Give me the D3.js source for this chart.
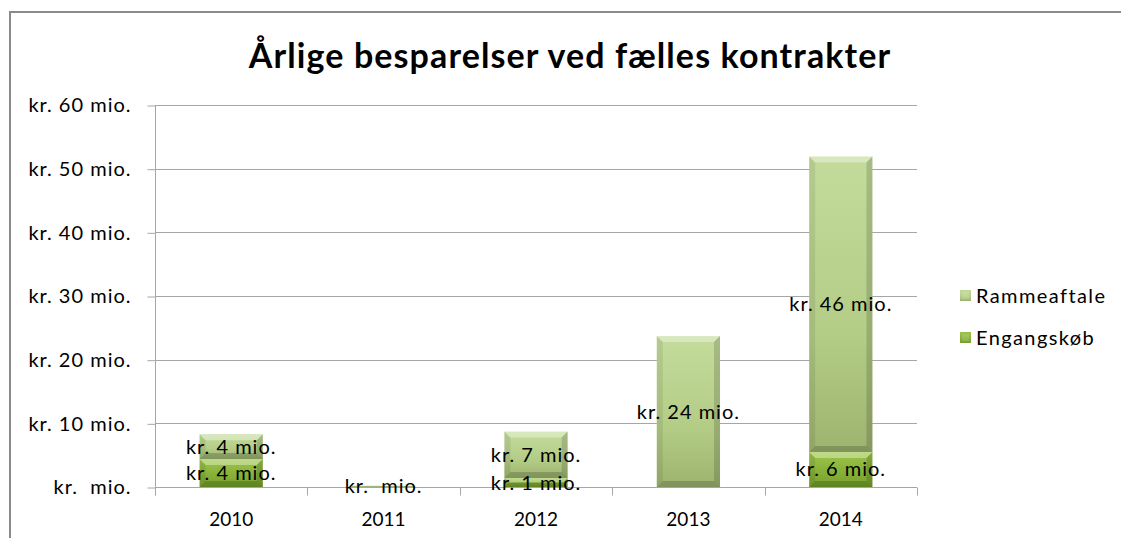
<!DOCTYPE html>
<html lang="da">
<head>
  <meta charset="UTF-8">
  <title>Årlige besparelser</title>
  <style>
  body { margin: 0; background: #fff; }
  svg { display: block; font-family: Lato, "Open Sans", sans-serif; }
  </style>
</head>
<body>
  <svg></svg>
  <script src="https://d3js.org/d3.v7.min.js"></script>
  <script>
  // data
  var years = ["2010", "2011", "2012", "2013", "2014"];
  var engangskob = [4.4, 0, 1.4, null, 5.5];
  var rammeaftale = [3.9, 0.2, 7.3, 23.7, 46.4];
  var seriesNames = ["Rammeaftale", "Engangskøb"];
  var yTicks = [0, 10, 20, 30, 40, 50, 60];

  var width = 1121;
  var height = 538;
  var plotL = 155, plotR = 917, plotT = 105, plotB = 487;
  var bevel = 6;

  var svg = d3.select("svg")
      .attr("width", width)
      .attr("height", height);

  var xScale = d3.scaleBand()
                .domain(years)
                .range([plotL, plotR])
                .paddingInner(0.585)
                .paddingOuter(0.2925);
  var yScale = d3.scaleLinear()
                .domain([0, 60])
                .range([plotB, plotT]);

  // Excel-style "kr. # mio." : a zero shows nothing between the words
  var money = v => Math.round(v) === 0 ? "kr.\u00a0 mio." : "kr. " + Math.round(v) + " mio.";

  // gradients
  var defs = svg.append("defs");
  function grad(id, stops) {
    var g = defs.append("linearGradient").attr("id", id)
      .attr("x1", 0).attr("y1", 0).attr("x2", 0).attr("y2", 1);
    stops.forEach(s => g.append("stop").attr("offset", s[0]).attr("stop-color", s[1]));
  }
  grad("gR", [[0, "#c4dc9b"], [0.6, "#b3cc86"], [1, "#9db46f"]]);
  grad("gE", [[0, "#9cc64a"], [1, "#76a02a"]]);

  // outer frame
  svg.append("path")
    .attr("d", "M10," + height + "V12H" + width)
    .attr("fill", "none")
    .attr("stroke", "#8a8a8a")
    .attr("stroke-width", 2);

  // gridlines
  svg.append("g").selectAll("line")
    .data(yTicks.slice(1))
    .enter().append("line")
      .attr("x1", plotL).attr("x2", plotR)
      .attr("y1", d => Math.round(yScale(d)) + 0.5).attr("y2", d => Math.round(yScale(d)) + 0.5)
      .attr("stroke", "#a6a6a6");

  // y axis
  var yAxis = svg.append("g")
    .attr("transform", "translate(" + (plotL + 0.5) + ",0.5)")
    .call(d3.axisLeft(yScale).tickValues(yTicks).tickSize(8).tickPadding(16)
      .tickFormat(money));
  yAxis.select(".domain").remove();
  yAxis.append("line").attr("y1", plotT).attr("y2", plotB + 8).attr("stroke", "#a6a6a6");
  yAxis.selectAll("line").attr("stroke", "#a6a6a6");
  yAxis.selectAll("text").attr("font-size", 20).attr("fill", "#000")
    .attr("letter-spacing", 1)
    .attr("font-family", "Lato, sans-serif");

  // x axis
  var xAxis = svg.append("g")
    .attr("transform", "translate(0," + (plotB + 0.5) + ")");
  xAxis.append("line").attr("x1", plotL).attr("x2", plotR).attr("stroke", "#a6a6a6");
  var bounds = years.map(y => xScale(y) - xScale.step() * xScale.paddingInner() / 2).concat([plotR]);
  xAxis.selectAll("line.t").data(bounds).enter().append("line")
    .attr("class", "t")
    .attr("x1", d => Math.round(d) + 0.5).attr("x2", d => Math.round(d) + 0.5)
    .attr("y1", 0).attr("y2", 8)
    .attr("stroke", "#a6a6a6");
  xAxis.selectAll("text").data(years).enter().append("text")
    .attr("x", d => xScale(d) + xScale.bandwidth() / 2)
    .attr("y", 38)
    .attr("text-anchor", "middle")
    .attr("font-size", 19)
    .text(d => d);

  // stacked segments
  var segs = [];
  years.forEach(function(yr, i) {
    var base = 0;
    if (engangskob[i] != null) {
      segs.push({ yr: yr, s: "E", v: engangskob[i], y0: base, y1: base + engangskob[i] });
      base += engangskob[i];
    }
    if (rammeaftale[i] != null) {
      segs.push({ yr: yr, s: "R", v: rammeaftale[i], y0: base, y1: base + rammeaftale[i] });
      base += rammeaftale[i];
    }
  });

  var bars = svg.append("g").selectAll("g")
    .data(segs.filter(d => d.v > 0))
    .enter().append("g");

  bars.append("rect")
    .attr("x", d => xScale(d.yr))
    .attr("y", d => yScale(d.y1))
    .attr("width", xScale.bandwidth())
    .attr("height", d => yScale(d.y0) - yScale(d.y1))
    .attr("fill", d => d.s === "R" ? "url(#gR)" : "url(#gE)");

  // bevel edges
  function bevelPts(d, side) {
    var x0 = xScale(d.yr), x1 = x0 + xScale.bandwidth();
    var ya = yScale(d.y1), yb = yScale(d.y0);
    var b = Math.min(bevel, (yb - ya) / 2);
    if (side === "top") return [[x0, ya], [x1, ya], [x1 - b, ya + b], [x0 + b, ya + b]];
    if (side === "bottom") return [[x0, yb], [x1, yb], [x1 - b, yb - b], [x0 + b, yb - b]];
    if (side === "left") return [[x0, ya], [x0 + b, ya + b], [x0 + b, yb - b], [x0, yb]];
    return [[x1, ya], [x1 - b, ya + b], [x1 - b, yb - b], [x1, yb]];
  }
  var bevelFill = { top: "rgba(255,255,255,0.35)", bottom: "rgba(0,0,0,0.18)", left: "rgba(0,0,0,0.08)", right: "rgba(0,0,0,0.15)" };
  ["top", "bottom", "left", "right"].forEach(function(side) {
    bars.append("polygon")
      .attr("points", d => bevelPts(d, side).map(p => p.join(",")).join(" "))
      .attr("fill", bevelFill[side]);
  });

  // data labels
  svg.append("g").selectAll("text")
    .data(segs.filter(d => d.v != null && !(d.s === "E" && d.yr === "2011")))
    .enter().append("text")
      .attr("x", d => xScale(d.yr) + xScale.bandwidth() / 2)
      .attr("y", d => (yScale(d.y0) + yScale(d.y1)) / 2)
      .attr("dy", "0.35em")
      .attr("text-anchor", "middle")
      .attr("font-size", 20)
      .attr("letter-spacing", 1)
      .text(d => money(d.v));

  // title
  svg.append("text")
    .attr("x", 570)
    .attr("y", 68)
    .attr("text-anchor", "middle")
    .attr("font-size", 34)
    .attr("font-weight", "bold")
    .attr("letter-spacing", 1.1)
    .text("Årlige besparelser ved fælles kontrakter");

  // legend
  var legend = svg.append("g").selectAll("g")
    .data(seriesNames)
    .enter().append("g")
      .attr("transform", (d, i) => "translate(960," + (290 + i * 42) + ")");
  legend.append("rect")
    .attr("width", 11).attr("height", 11)
    .attr("fill", d => d === "Rammeaftale" ? "url(#gR)" : "url(#gE)");
  legend.append("rect")
    .attr("x", 2).attr("y", 2).attr("width", 7).attr("height", 7)
    .attr("fill", "rgba(255,255,255,0.15)");
  legend.append("text")
    .attr("x", 16).attr("y", 6)
    .attr("dy", "0.35em")
    .attr("font-size", 20)
    .attr("letter-spacing", 1.4)
    .text(d => d);
  </script>
</body>
</html>
